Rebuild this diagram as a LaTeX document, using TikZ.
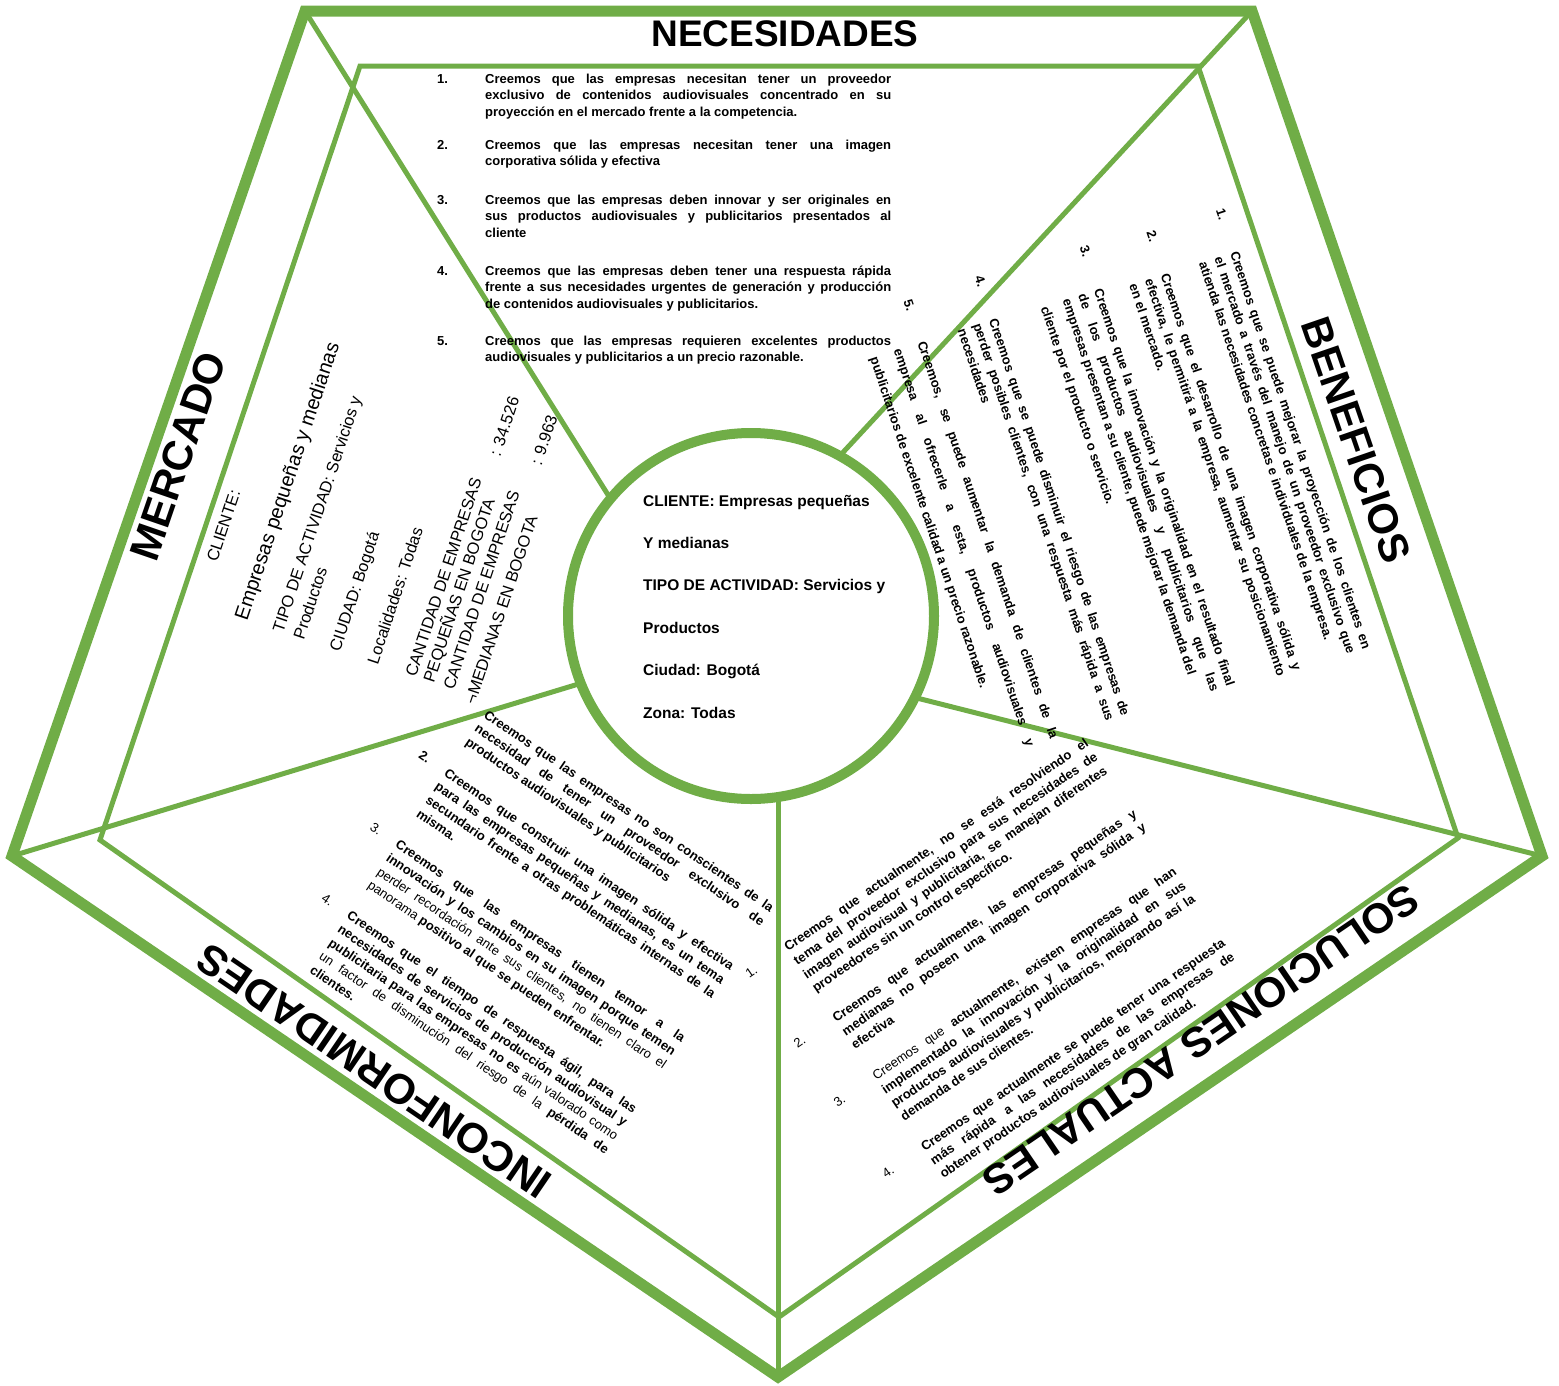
\documentclass[tikz,border=0pt]{standalone}
\usepackage{fontspec}
\setmainfont{Liberation Sans}
\definecolor{leafgreen}{RGB}{112,173,71}
\tolerance=10000
\hbadness=10000
% last line of a block set to the full width
\newcommand{\fullline}{\parfillskip=0pt\relax}
\tikzset{
        outerrim/.style = {draw=leafgreen, line width=11pt},
        innerrim/.style = {draw=leafgreen, line width=5pt},
        spoke/.style = {draw=leafgreen, line width=5pt},
        hub/.style = {circle, draw=leafgreen, line width=10pt, fill=white,
            minimum size=366pt, inner sep=0pt},
        heading/.style = {font=\fontsize{42}{42}\selectfont\bfseries, inner sep=0pt},
        belief/.style = {font=\fontsize{13}{16.5}\selectfont\bfseries,
            align=justify, inner sep=0pt, anchor=base west},
        beliefno/.style = {font=\fontsize{13}{16.5}\selectfont\bfseries,
            inner sep=0pt, anchor=base west},
        fact/.style = {font=\fontsize{16.5}{20}\selectfont, inner sep=0pt, anchor=base west},
        hubtext/.style = {font=\fontsize{15.5}{18}\selectfont\bfseries, inner sep=0pt,
            anchor=base west},
    }
\begin{document}
\begin{tikzpicture}[x=1pt,y=-1pt]
\useasboundingbox (0,0) rectangle (1559,1385);

% frame: outer and inner pentagon
\coordinate (o1) at (305,11);
\coordinate (o2) at (1252,11);
\coordinate (o3) at (1542,856);
\coordinate (o4) at (778,1377);
\coordinate (o5) at (12,856);
\coordinate (i1) at (360,66);
\coordinate (i2) at (1198,66);
\coordinate (i3) at (1458,838);
\coordinate (i4) at (779,1317);
\coordinate (i5) at (100,840);
% spoke feet, hidden under the hub
\coordinate (f1) at (625,522);
\coordinate (f2) at (835,461);
\coordinate (f3) at (905,695);
\coordinate (f4) at (778,790);
\coordinate (f5) at (595,679);

\draw[outerrim] (o1) -- (o2) -- (o3) -- (o4) -- (o5) -- cycle;
\draw[innerrim] (i1) -- (i2) -- (i3) -- (i4) -- (i5) -- cycle;
\foreach \k in {1,...,5}
    \draw[spoke] (o\k) -- (f\k);
\node[hub] (hub) at (751,616) {};

% hub
\foreach \txt [count=\k] in {CLIENTE: Empresas pequeñas, Y medianas,
        TIPO DE ACTIVIDAD: Servicios y, Productos, Ciudad: Bogotá, Zona: Todas}
    \node[hubtext] (hub\k) at (643,463.6+42.4*\k) {\txt};

% headings
\node[heading, font=\fontsize{37}{37}\selectfont\bfseries] (needs) at (785,34) {NECESIDADES};
\node[heading, rotate=-71] (gains) at (1356,440) {BENEFICIOS};
\node[heading, rotate=71] (market) at (178,456) {MERCADO};
\node[heading, rotate=214.3] (current) at (1201,1040) {SOLUCIONES ACTUALES};
\node[heading, rotate=145.7] (gaps) at (374,1071) {INCONFORMIDADES};

% necesidades
\node[beliefno] (need1no) at (437,83) {1.};
\node[belief, text width=406pt] (need1) at (485,83) {Creemos que las empresas necesitan tener un proveedor\linebreak
    exclusivo de contenidos audiovisuales concentrado en su\linebreak
    proyección en el mercado frente a la competencia.};
\node[beliefno] (need2no) at (437,149) {2.};
\node[belief, text width=406pt] (need2) at (485,149) {Creemos que las empresas necesitan tener una imagen\linebreak
    corporativa sólida y efectiva};
\node[beliefno] (need3no) at (437,204) {3.};
\node[belief, text width=406pt] (need3) at (485,204) {Creemos que las empresas deben innovar y ser originales en\linebreak
    sus productos audiovisuales y publicitarios presentados al\linebreak
    cliente};
\node[beliefno] (need4no) at (437,275) {4.};
\node[belief, text width=406pt] (need4) at (485,275) {Creemos que las empresas deben tener una respuesta rápida\linebreak
    frente a sus necesidades urgentes de generación y producción\linebreak
    de contenidos audiovisuales y publicitarios.};
\node[beliefno] (need5no) at (437,345) {5.};
\node[belief, text width=406pt] (need5) at (485,345) {Creemos que las empresas requieren excelentes productos\linebreak
    audiovisuales y publicitarios a un precio razonable.};

% beneficios
\begin{scope}[shift={(1230,253)}, rotate=-71.5, transform shape]
    \node[beliefno] (gain1no) at (-45,0) {1.};
    \node[belief, text width=418pt] (gain1) at (0,0) {\fullline Creemos que se puede mejorar la proyección de los clientes en\linebreak
        el mercado a través del manejo de un proveedor exclusivo que\linebreak
        atienda las necesidades concretas e individuales de la empresa.};
    \node[beliefno] (gain2no) at (-46,73) {2.};
    \node[belief, text width=418pt] (gain2) at (-1,73) {Creemos que el desarrollo de una imagen corporativa sólida y\linebreak
        efectiva, le permitirá a la empresa, aumentar su posicionamiento\linebreak
        en el mercado.};
    \node[beliefno] (gain3no) at (-53,141) {3.};
    \node[belief, text width=418pt] (gain3) at (-8,141) {Creemos que la innovación y la originalidad en el resultado final\linebreak
        de los productos audiovisuales y publicitarios que las\linebreak
        empresas presentan a su cliente, puede mejorar la demanda del};
    \node[belief, text width=418pt] (gain3b) at (-8,197) {cliente por el producto o servicio.};
    \node[beliefno] (gain4no) at (-58,250) {4.};
    \node[belief, text width=418pt] (gain4) at (-13,250) {Creemos que se puede disminuir el riesgo de las empresas de\linebreak
        perder posibles clientes, con una respuesta más rápida a sus\linebreak
        necesidades};
    \node[beliefno] (gain5no) at (-58,325) {5.};
    \node[belief, text width=418pt, font=\fontsize{13}{25}\selectfont\bfseries] (gain5) at (-14,325) {Creemos, se puede aumentar la demanda de clientes de la\linebreak
        empresa al ofrecerle a esta, productos audiovisuales y\linebreak
        publicitarios de excelente calidad a un precio razonable.};
\end{scope}

% soluciones actuales
\begin{scope}[shift={(788,952)}, rotate=34.4, transform shape]
    \node[beliefno, font=\fontsize{13}{16.5}\selectfont] (now1no) at (-47,0) {1.};
    \node[belief, text width=365pt] (now1) at (0,0) {Creemos que actualmente, no se está resolviendo el\linebreak
        tema del proveedor exclusivo para sus necesidades de\linebreak
        imagen audiovisual y publicitaria, se manejan diferentes\linebreak
        proveedores sin un control específico.};
    \node[beliefno, font=\fontsize{13}{16.5}\selectfont] (now2no) at (-47,85.5) {2.};
    \node[belief, text width=365pt] (now2) at (0,85.5) {Creemos que actualmente, las empresas pequeñas y\linebreak
        medianas no poseen una imagen corporativa sólida y\linebreak
        efectiva};
    \node[beliefno, font=\fontsize{13}{16.5}\selectfont] (now3no) at (-47,156) {3.};
    \node[belief, text width=365pt] (now3) at (0,156) {{\mdseries Creemos que} actualmente, existen empresas que han\linebreak
        implementado la innovación y la originalidad en sus\linebreak
        productos audiovisuales y publicitarios, mejorando así la\linebreak
        demanda de sus clientes.};
    \node[beliefno, font=\fontsize{13}{16.5}\selectfont] (now4no) at (-47,242) {4.};
    \node[belief, text width=365pt] (now4) at (0,242) {Creemos que actualmente se puede tener una respuesta\linebreak
        más rápida\quad a las necesidades de las empresas de\linebreak
        obtener productos audiovisuales de gran calidad.};
\end{scope}

% inconformidades
\begin{scope}[shift={(483,717)}, rotate=-34.3, transform shape]
    \node[belief, text width=347pt] (gap1) at (0,0) {Creemos que las empresas no son conscientes de la\linebreak
        necesidad de tener un proveedor exclusivo de\linebreak
        productos audiovisuales y publicitarios};
    \node[beliefno] (gap2no) at (-31,70.5) {2.};
    \node[belief, text width=347pt] (gap2) at (0,70.5) {Creemos que construir una imagen sólida y efectiva\linebreak
        para las empresas pequeñas y medianas, es un tema\linebreak
        secundario frente a otras problemáticas internas de la\linebreak
        misma.};
    \node[beliefno, font=\fontsize{13}{16.5}\selectfont] (gap3no) at (-31,157) {3.};
    \node[belief, text width=347pt] (gap3) at (0,157) {Creemos que las empresas tienen temor a la\linebreak
        innovación y los cambios en su imagen porque temen\linebreak
        {\mdseries perder recordación ante sus clientes, no tienen claro el}\linebreak
        {\mdseries panorama} positivo al que se pueden enfrentar.};
    \node[beliefno, font=\fontsize{13}{16.5}\selectfont] (gap4no) at (-31,243) {4.};
    \node[belief, text width=347pt] (gap4) at (0,243) {Creemos que el tiempo de respuesta ágil, para las\linebreak
        necesidades de servicios de producción audiovisual y\linebreak
        publicitaria para las empresas no es {\mdseries aún valorado como}\linebreak
        {\mdseries un factor de disminución del riesgo de la} pérdida de\linebreak
        clientes.};
\end{scope}

% mercado
\begin{scope}[shift={(217,563)}, rotate=71.5, transform shape]
    \node[fact] (client) at (0,0) {CLIENTE:};
    \node[fact, font=\fontsize{20}{24}\selectfont] (firms) at (-46,47) {Empresas pequeñas y medianas};
    \node[fact] (kind) at (-46,85) {TIPO DE ACTIVIDAD: Servicios y};
    \node[fact] (kindb) at (-46,107) {Productos};
    \node[fact] (city) at (-46,145) {CIUDAD: Bogotá};
    \node[fact] (zones) at (-46,185) {Localidades: Todas};
    \node[fact] (count1) at (-46,225) {CANTIDAD DE EMPRESAS};
    \node[fact] (count1b) at (-46,244) {PEQUEÑAS EN BOGOTA};
    \node[fact] (count2) at (-46,265) {CANTIDAD DE EMPRESAS};
    \node[fact] (count2b) at (-53,290) {¬MEDIANAS EN BOGOTA};
    \node[fact] (small) at (190,235) {: 34.526};
    \node[fact] (medium) at (194,277) {: 9.963};
\end{scope}
\end{tikzpicture}
\end{document}
